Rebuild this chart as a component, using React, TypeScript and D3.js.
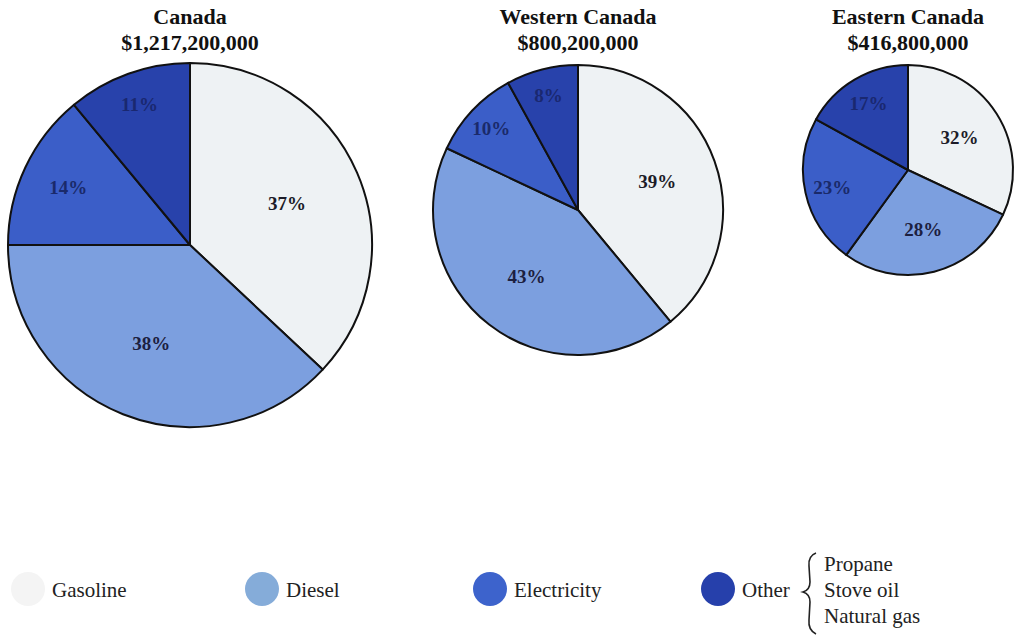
import React from "react";
import * as d3 from "d3";

const categories = ["Gasoline", "Diesel", "Electricity", "Other"];
const regions = ["Canada", "Western Canada", "Eastern Canada"];
const totals = ["$1,217,200,000", "$800,200,000", "$416,800,000"];
const canadaValues = [37, 38, 14, 11];
const westernValues = [39, 43, 10, 8];
const easternValues = [32, 28, 23, 17];
const otherItems = ["Propane", "Stove oil", "Natural gas"];

const pieColors = ["#eef2f4", "#7c9fdf", "#3b5ec8", "#2842ab"];
const legendColors = ["#f4f4f4", "#85acd9", "#3d63cc", "#2640ab"];
const labelColors = ["#1c1c28", "#1c2040", "#1a2a6a", "#1a2870"];

const FONT = "'Liberation Serif', 'Times New Roman', Times, serif";

const pies = [
  { values: canadaValues, cx: 190, cy: 245, r: 182 },
  { values: westernValues, cx: 578, cy: 210, r: 145 },
  { values: easternValues, cx: 908, cy: 170, r: 105 },
];

function labelFrac(v: number) {
  if (v <= 12) return 0.82;
  if (v <= 25) return 0.74;
  return 0.58;
}

export default function App() {
  const pieGen = d3.pie<number>().sort(null).value((d) => d);
  const txt = { fontFamily: FONT };
  return (
    <svg width={1017} height={639} style={{ position: "absolute", left: 0, top: 0, background: "#fff", fontFamily: FONT }}>
      {pies.map((p, pi) => {
        const arcs = pieGen(p.values);
        const arc = d3.arc<d3.PieArcDatum<number>>().innerRadius(0).outerRadius(p.r);
        return (
          <g key={pi}>
            <text x={p.cx} y={24} textAnchor="middle" style={txt} fontWeight="bold" fontSize={22} fill="#111">
              {regions[pi]}
            </text>
            <text x={p.cx} y={50} textAnchor="middle" style={txt} fontWeight="bold" fontSize={22} fill="#111">
              {totals[pi]}
            </text>
            <g transform={`translate(${p.cx},${p.cy})`}>
              {arcs.map((a, i) => (
                <path key={i} d={arc(a) || ""} fill={pieColors[i]} stroke="#111" strokeWidth={2} strokeLinejoin="round" />
              ))}
              {arcs.map((a, i) => {
                const mid = (a.startAngle + a.endAngle) / 2;
                const rr = p.r * labelFrac(a.data);
                const x = Math.sin(mid) * rr;
                const y = -Math.cos(mid) * rr;
                return (
                  <text key={"l" + i} x={x} y={y} dy="0.35em" textAnchor="middle" style={txt} fontWeight="bold" fontSize={19} fill={labelColors[i]}>
                    {a.data}%
                  </text>
                );
              })}
            </g>
          </g>
        );
      })}
      {categories.map((c, i) => {
        const cx = [28, 262, 490, 718][i];
        return (
          <g key={c}>
            <circle cx={cx} cy={589} r={17} fill={legendColors[i]} />
            <text x={cx + 24} y={597} style={txt} fontSize={21} fill="#222">
              {c}
            </text>
          </g>
        );
      })}
      <path
        d="M816,553 Q808,556 809,566 L810,582 Q810,590 803,592 Q810,594 810,602 L809,620 Q808,630 816,634"
        fill="none"
        stroke="#222"
        strokeWidth={1.6}
      />
      {otherItems.map((t, i) => (
        <text key={t} x={824} y={571 + i * 26} style={txt} fontSize={21} fill="#222">
          {t}
        </text>
      ))}
    </svg>
  );
}
